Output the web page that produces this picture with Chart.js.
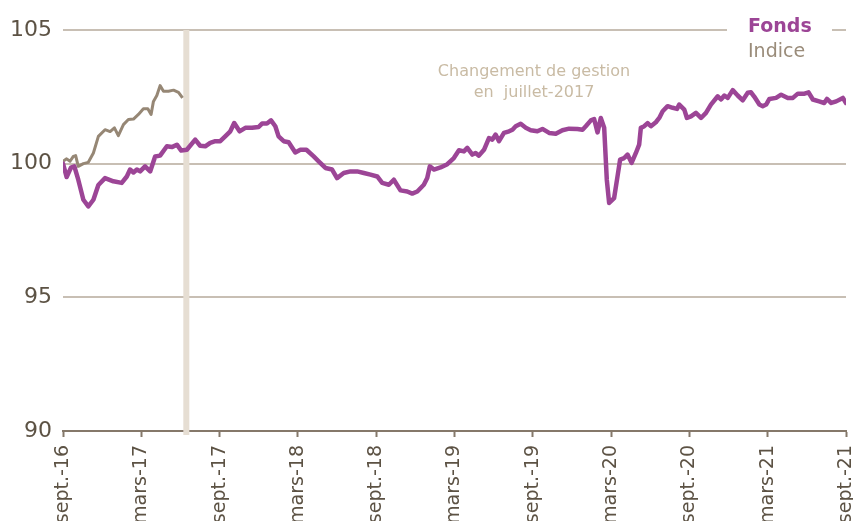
<!DOCTYPE html>
<html>
<head>
<meta charset="utf-8">
<script src="https://cdn.jsdelivr.net/npm/chart.js@4.4.1/dist/chart.umd.min.js"></script>
<style>
    body { margin: 0; background: #fff; }
    #wrap { width: 853px; height: 521px; }
</style>
</head>
<body>
<div id="wrap"><canvas id="perfChart" width="853" height="521"></canvas></div>
<script>
// months counted from sept. 2016
const tickLabels = ['sept.-16', 'mars-17', 'sept.-17', 'mars-18', 'sept.-18', 'mars-19',
    'sept.-19', 'mars-20', 'sept.-20', 'mars-21', 'sept.-21'];

const fondsMonths = [0, 0.28, 0.61, 0.87, 1.17, 1.56, 1.94, 2.33, 2.71, 3.22, 3.86, 4.5, 4.89, 5.14,
    5.4, 5.66, 5.91, 6.29, 6.68, 7.06, 7.44, 7.96, 8.34, 8.73, 9.06, 9.49, 10.13, 10.51, 10.9, 11.28,
    11.67, 12.05, 12.43, 12.82, 13.12, 13.53, 13.97, 14.48, 14.99, 15.25, 15.63, 15.94, 16.27, 16.52,
    16.91, 17.29, 17.8, 18.19, 18.65, 19.21, 19.59, 20.11, 20.62, 21.0, 21.51, 22.03, 22.54, 23.05,
    23.56, 24.08, 24.46, 24.97, 25.35, 25.86, 26.38, 26.76, 27.15, 27.65, 27.91, 28.11, 28.42, 28.93,
    29.45, 29.95, 30.34, 30.72, 30.98, 31.37, 31.62, 31.87, 32.26, 32.64, 32.9, 33.15, 33.41, 33.79,
    34.18, 34.44, 34.69, 35.07, 35.46, 35.84, 36.35, 36.74, 37.25, 37.76, 38.27, 38.78, 39.42, 39.81,
    40.06, 40.45, 40.7, 40.96, 41.21, 41.47, 41.67, 41.85, 42.23, 42.49, 42.69, 43.0, 43.26, 43.57,
    43.9, 44.15, 44.28, 44.54, 44.8, 45.05, 45.43, 45.69, 45.95, 46.33, 46.72, 47.05, 47.22, 47.61,
    47.81, 48.12, 48.5, 48.89, 49.27, 49.65, 50.17, 50.42, 50.68, 50.94, 51.32, 51.7, 52.09, 52.47,
    52.72, 52.98, 53.36, 53.62, 53.88, 54.13, 54.64, 55.03, 55.54, 55.93, 56.31, 56.82, 57.13, 57.46,
    57.94, 58.33, 58.54, 58.87, 59.25, 59.76, 60];
const fondsValues = [100.0, 99.5, 99.85, 99.9, 99.4, 98.65, 98.4, 98.65, 99.2, 99.46, 99.34, 99.28,
    99.52, 99.78, 99.67, 99.78, 99.71, 99.9, 99.71, 100.27, 100.3, 100.65, 100.62, 100.71, 100.49,
    100.52, 100.9, 100.67, 100.65, 100.78, 100.84, 100.84, 101.02, 101.21, 101.52, 101.21, 101.34,
    101.34, 101.37, 101.5, 101.5, 101.62, 101.4, 101.02, 100.84, 100.8, 100.42, 100.52, 100.52, 100.27,
    100.09, 99.84, 99.78, 99.46, 99.65, 99.71, 99.71, 99.65, 99.59, 99.52, 99.28, 99.21, 99.4, 99.0,
    98.96, 98.88, 98.96, 99.21, 99.46, 99.9, 99.78, 99.86, 99.98, 100.21, 100.5, 100.46, 100.59,
    100.34, 100.4, 100.3, 100.52, 100.96, 100.9, 101.09, 100.84, 101.15, 101.21, 101.27, 101.4,
    101.49, 101.34, 101.25, 101.21, 101.3, 101.15, 101.12, 101.25, 101.31, 101.3, 101.27, 101.4,
    101.62, 101.67, 101.17, 101.71, 101.34, 99.4, 98.53, 98.71, 99.52, 100.15, 100.21, 100.34, 100.03,
    100.4, 100.71, 101.34, 101.4, 101.52, 101.4, 101.55, 101.71, 101.96, 102.15, 102.09, 102.05,
    102.21, 102.02, 101.71, 101.77, 101.9, 101.71, 101.9, 102.21, 102.52, 102.4, 102.55, 102.46,
    102.75, 102.55, 102.37, 102.65, 102.67, 102.5, 102.21, 102.15, 102.21, 102.42, 102.46, 102.58,
    102.46, 102.46, 102.62, 102.62, 102.67, 102.4, 102.33, 102.27, 102.42, 102.27, 102.33, 102.46,
    102.27];

const indiceMonths = [0, 0.28, 0.54, 0.79, 0.97, 1.17, 1.56, 1.94, 2.33, 2.71, 3.22, 3.61, 3.94,
    4.24, 4.63, 5.01, 5.4, 5.78, 6.16, 6.5, 6.75, 6.93, 7.19, 7.44, 7.7, 8.08, 8.47, 8.85, 9.16];
const indiceValues = [100.09, 100.18, 100.09, 100.27, 100.3, 99.9, 100.0, 100.05, 100.4, 101.02,
    101.27, 101.2, 101.34, 101.05, 101.46, 101.65, 101.67, 101.84, 102.05, 102.05, 101.84, 102.33,
    102.55, 102.92, 102.71, 102.71, 102.75, 102.67, 102.46];

const changeMonth = 9.45;
const noteLines = ['Changement de gestion', 'en  juillet-2017'];

const FONT = '"DejaVu Sans", Verdana, sans-serif';
const purple = '#9c4596';
const taupe = '#968775';

function toPoints(xs, ys) {
    return xs.map((x, i) => ({ x: x, y: ys[i] }));
}

const decorations = {
    id: 'decorations',
    beforeDatasetsDraw(chart) {
        const ctx = chart.ctx;
        const xScale = chart.scales.x;
        const yScale = chart.scales.y;
        const bx = xScale.getPixelForValue(changeMonth);
        ctx.save();
        ctx.fillStyle = '#e6ded3';
        ctx.fillRect(bx - 3, yScale.getPixelForValue(105), 6, yScale.bottom - yScale.top + 4);
        ctx.restore();
    },
    afterDatasetsDraw(chart) {
        const ctx = chart.ctx;
        ctx.save();
        // legend
        ctx.fillStyle = '#fff';
        ctx.fillRect(727, 14, 105, 26);
        ctx.textBaseline = 'middle';
        ctx.textAlign = 'left';
        ctx.font = 'bold 19px ' + FONT;
        ctx.fillStyle = purple;
        ctx.fillText('Fonds', 748, 27);
        ctx.font = '19px ' + FONT;
        ctx.fillStyle = '#9a8c7a';
        ctx.fillText('Indice', 748, 52);
        // note
        ctx.font = '16px ' + FONT;
        ctx.fillStyle = '#c9bba4';
        ctx.textAlign = 'center';
        ctx.fillText(noteLines[0], 534, 72);
        ctx.fillText(noteLines[1], 534, 93);
        ctx.restore();
    }
};

new Chart(document.getElementById('perfChart'), {
    type: 'line',
    data: {
        datasets: [
            {
                label: 'Fonds',
                data: toPoints(fondsMonths, fondsValues),
                borderColor: purple,
                borderWidth: 4.5,
                borderJoinStyle: 'round',
                borderCapStyle: 'round',
                pointRadius: 0,
                tension: 0
            },
            {
                label: 'Indice',
                data: toPoints(indiceMonths, indiceValues),
                borderColor: taupe,
                borderWidth: 3,
                borderJoinStyle: 'round',
                pointRadius: 0,
                tension: 0
            }
        ]
    },
    options: {
        responsive: false,
        animation: false,
        layout: { padding: { top: 30, right: 7, left: 0, bottom: 0 } },
        plugins: {
            legend: { display: false },
            tooltip: { enabled: false }
        },
        scales: {
            x: {
                type: 'linear',
                min: 0,
                max: 60,
                afterFit(scale) {
                    scale.height = 90;
                    scale.paddingLeft = 0;
                    scale.paddingRight = 0;
                },
                afterBuildTicks(scale) {
                    scale.ticks = tickLabels.map((_, i) => ({ value: i * 6 }));
                },
                border: { color: '#85786a', width: 2 },
                grid: {
                    drawOnChartArea: false,
                    drawTicks: true,
                    tickLength: 6,
                    tickWidth: 2,
                    color: '#85786a'
                },
                ticks: {
                    autoSkip: false,
                    maxRotation: 90,
                    minRotation: 90,
                    padding: 8,
                    color: '#5c5244',
                    font: { family: FONT, size: 19 },
                    callback: (v) => tickLabels[Math.round(v / 6)]
                }
            },
            y: {
                min: 90,
                max: 105,
                afterFit(scale) { scale.width = 63; },
                border: { display: false },
                grid: {
                    drawTicks: false,
                    lineWidth: 2,
                    color: (c) => c.tick && c.tick.value === 90 ? 'rgba(0,0,0,0)' : '#c8bfb4'
                },
                ticks: {
                    stepSize: 5,
                    padding: 11,
                    color: '#5c5244',
                    font: { family: FONT, size: 22 }
                }
            }
        }
    },
    plugins: [decorations]
});
</script>
</body>
</html>
